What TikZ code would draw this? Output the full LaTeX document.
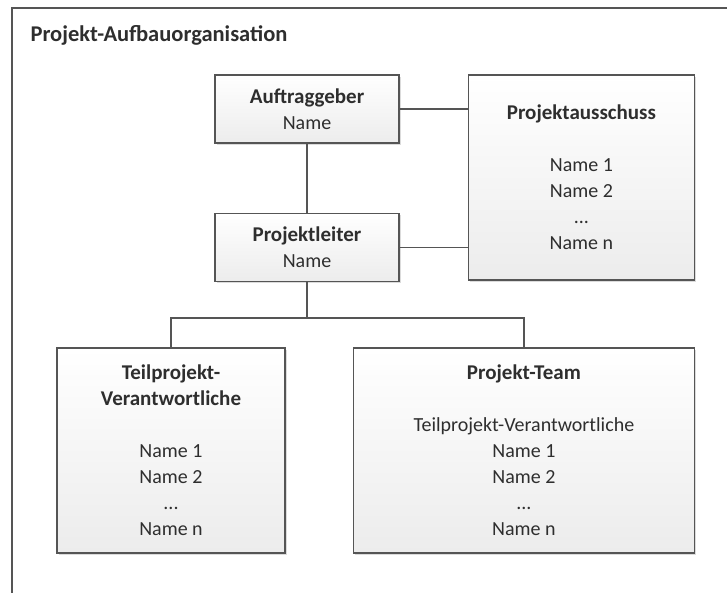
\documentclass[tikz,border=0pt]{standalone}
\usepackage{fontspec}
\setmainfont{Carlito}
\usetikzlibrary{positioning,shadows}
\definecolor{boxline}{HTML}{555555}
\definecolor{boxfill}{HTML}{ECECEC}
\definecolor{txt}{HTML}{2E2E2E}
\tikzset{
  orgbox/.style={draw=boxline,line width=1.4pt,top color=white,bottom color=boxfill,
    align=center,inner sep=0pt,text=txt,font=\fontsize{20}{26}\selectfont,
    drop shadow={shadow xshift=2pt,shadow yshift=-2pt,fill=black!20,opacity=0.7}},
  link/.style={draw=boxline,line width=1.4pt},
  hd/.style={font=\fontsize{21}{26}\selectfont\bfseries}
}
\newcommand{\hdtext}[1]{{\fontsize{21}{26}\selectfont\bfseries #1}}
\begin{document}
\begin{tikzpicture}[x=1pt,y=1pt]
\useasboundingbox (0,0) rectangle (727,593);
% frame
\draw[link] (727,585) -- (12,585) -- (12,0);
\node[anchor=west,text=txt,font=\fontsize{22.5}{26}\selectfont\bfseries] (titel) at (27,558) {Projekt-Aufbauorganisation};
\node[orgbox,minimum width=184pt,minimum height=68pt] (auftr) at (307,484) {\hdtext{Auftraggeber}\\Name};
\node[orgbox,minimum width=184pt,minimum height=68pt,below=69pt of auftr] (leiter) {\hdtext{Projektleiter}\\Name};
\node[orgbox,minimum width=226pt,minimum height=205pt,right=68pt of auftr.north east,anchor=north west] (ausschuss)
  {\hdtext{Projektausschuss}\\[26pt]Name 1\\Name 2\\...\\Name n};
\node[orgbox,minimum width=228pt,minimum height=205pt] (teil) at (171,142.5)
  {\hdtext{Teilprojekt-}\\\hdtext{Verantwortliche}\\[26pt]Name 1\\Name 2\\...\\Name n};
\node[orgbox,minimum width=341pt,minimum height=205pt,right=67pt of teil] (team)
  {\hdtext{Projekt-Team}\\[26pt]Teilprojekt-Verantwortliche\\Name 1\\Name 2\\...\\Name n};
% connectors
\draw[link] (auftr) -- (leiter);
\draw[link] (auftr) -- (auftr -| ausschuss.west);
\draw[link] (leiter) -- (leiter -| ausschuss.west);
\path (leiter.south) ++(0,-36) coordinate (fork);
\draw[link] (leiter.south) -- (fork) -| (teil.north);
\draw[link] (fork) -| (team.north);
\end{tikzpicture}
\end{document}
